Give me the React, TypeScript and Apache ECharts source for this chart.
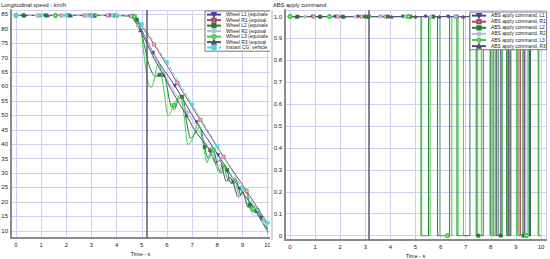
import React, { useEffect, useRef } from "react";
import * as echarts from "echarts";

const FONT = "'Liberation Sans', Arial, sans-serif";

// ---------- Left panel: Longitudinal speed (km/h) vs time (s) ----------
const L1_T = [0, 0.3, 1.16, 2.02, 2.88, 3.74, 4.5, 4.6, 4.75, 4.9, 5.1, 5.46, 5.8, 6.32, 7.18, 8.04, 8.9, 9.76, 10.0];
const L1_V = [84.6, 84.6, 84.6, 84.6, 84.6, 84.6, 84.5, 84.3, 83.2, 81.2, 77.8, 71.6, 66.8, 60.2, 47.6, 36.2, 24.6, 14.6, 12.2];
const L1_M = [0.3, 1.16, 2.02, 2.88, 3.74, 4.6, 5.46, 6.32, 7.18, 8.04, 8.9, 9.76];

const R1_T = [0, 0.89, 1.81, 2.73, 3.65, 4.57, 4.8, 5.1, 5.49, 5.9, 6.41, 7.33, 8.25, 9.17, 10.0];
const R1_V = [84.6, 84.6, 84.6, 84.6, 84.6, 84.4, 83.0, 79.6, 74.6, 68.8, 61.3, 48.4, 35.7, 23.8, 12.6];
const R1_M = [0.89, 1.81, 2.73, 3.65, 4.57, 5.49, 6.41, 7.33, 8.25, 9.17];

const L2_T = [0, 0.3, 1.2, 2.1, 3.0, 3.9, 4.6, 4.8, 4.95, 5.1, 5.25, 5.4, 5.55, 5.7, 5.86, 6.0, 6.15, 6.3, 6.45, 6.6, 6.8, 6.95, 7.1, 7.3, 7.5, 7.65, 7.85, 8.0, 8.15, 8.3, 8.4, 8.55, 8.72, 8.95, 9.15, 9.3, 9.42, 9.6, 9.8, 10.0];
const L2_V = [84.6, 84.6, 84.6, 84.6, 84.6, 84.6, 84.5, 83.2, 80, 74.5, 68.5, 65, 63.5, 64, 65, 60, 53.5, 52, 55.5, 56.5, 47, 42, 43.5, 46, 39, 35, 38, 33, 30, 33, 31, 26.5, 28, 22.5, 24, 19, 16.5, 18, 13, 9.8];
const L2_M = [0.3, 1.2, 2.1, 3.0, 3.9, 4.8, 5.7, 6.6, 7.5, 8.4, 9.3];

const R2_T = [0, 0.83, 1.83, 2.83, 3.83, 4.5, 4.83, 5.2, 5.5, 5.83, 6.2, 6.5, 6.83, 7.2, 7.5, 7.83, 8.05, 8.2, 8.45, 8.6, 8.83, 9.0, 9.25, 9.5, 9.7, 9.83, 10.0];
const R2_V = [84.6, 84.6, 84.6, 84.6, 84.6, 84.5, 81, 76, 70.5, 65.5, 59.5, 55.5, 51, 45.5, 41, 36, 32, 33.5, 27.5, 28.5, 22.1, 23, 18.5, 15, 15.5, 13, 10];
const R2_M = [0.83, 1.83, 2.83, 3.83, 4.83, 5.83, 6.83, 7.83, 8.83, 9.83];

const L3_T = [0, 1.57, 3.14, 4.6, 4.71, 4.8, 4.9, 4.97, 5.06, 5.16, 5.26, 5.36, 5.49, 5.6, 5.68, 5.78, 5.9, 6.06, 6.28, 6.52, 6.68, 6.85, 7.0, 7.25, 7.42, 7.6, 7.78, 7.85, 7.93, 8.08, 8.24, 8.38, 8.5, 8.68, 8.9, 9.1, 9.25, 9.37, 9.42, 9.55, 9.76, 9.86, 10.02];
const L3_V = [84.6, 84.6, 84.6, 84.5, 84.3, 83.6, 82, 79.5, 73.2, 66.3, 61.1, 59.6, 62.2, 67, 68, 64.5, 57.5, 49.8, 53.5, 57.1, 50, 39.8, 41.5, 47.3, 41, 33.6, 39.2, 38, 33, 30.5, 33.4, 29, 27, 28.5, 21.9, 24.8, 20, 17.3, 17.6, 18.5, 13.8, 14.5, 9.2];
const L3_M = [0, 1.57, 3.14, 4.71, 6.28, 7.85, 9.42];

const R3_T = [0, 0.34, 1.26, 2.18, 3.1, 4.02, 4.5, 4.7, 4.94, 5.2, 5.5, 5.86, 6.2, 6.5, 6.78, 7.1, 7.4, 7.7, 7.95, 8.1, 8.37, 8.5, 8.62, 8.85, 9.0, 9.25, 9.4, 9.54, 9.75, 10.0];
const R3_V = [84.6, 84.6, 84.6, 84.6, 84.6, 84.6, 84.5, 83, 79.5, 75, 69.5, 64, 58.5, 54, 50, 45, 41.5, 38, 33.5, 34.5, 27, 28.5, 27, 21.5, 23.5, 18, 19, 16.8, 13.5, 10.5];
const R3_M = [0.34, 1.26, 2.18, 3.1, 4.02, 4.94, 5.86, 6.78, 7.7, 8.62, 9.54];

const CG_T = [0, 1, 2, 3, 4, 4.5, 4.75, 5, 5.3, 5.6, 6, 7, 8, 9, 10];
const CG_V = [84.6, 84.6, 84.6, 84.6, 84.6, 84.5, 83.8, 81.6, 77.8, 73.5, 68.4, 53.8, 39.4, 24.9, 12.8];
const CG_M = [0, 1, 2, 3, 4, 5, 6, 7, 8, 9, 10];

const SPEED_NAMES = [
  "Wheel L1 (equivalent)",
  "Wheel R1 (equivalent)",
  "Wheel L2 (equivalent)",
  "Wheel R2 (equivalent)",
  "Wheel L3 (equivalent)",
  "Wheel R3 (equivalent)",
  "Instant CG, vehicle",
];
const SPEED_CURSOR = 5.18;

// ---------- Right panel: ABS apply command ----------
const C_L1_T = [0, 0.9, 1.8, 2.7, 3.6, 4.5, 5.4, 6.3, 7.2, 8.1, 9.0, 9.52, 9.58, 9.9, 10];
const C_L1_V = [1, 1, 1, 1, 1, 1, 1, 1, 1, 1, 1, 0, 1, 1, 1];
const C_L1_M = [0, 0.9, 1.8, 2.7, 3.6, 4.5, 5.4, 6.3, 7.2, 8.1, 9.0, 9.9];

const C_R1_T = [0, 0.95, 1.9, 2.85, 3.8, 4.75, 5.7, 6.65, 7.6, 8.55, 9.12, 9.18, 9.5, 10];
const C_R1_V = [1, 1, 1, 1, 1, 1, 1, 1, 1, 1, 0, 1, 1, 1];
const C_R1_M = [0.95, 1.9, 2.85, 3.8, 4.75, 5.7, 6.65, 7.6, 8.55, 9.5];

const C_L2_T = [0, 0.3, 1.2, 2.1, 3.0, 3.9, 4.8, 5.22, 5.52, 5.7, 5.88, 6.36, 6.6, 6.65, 7.17, 7.42, 7.5, 7.7, 7.98, 8.12, 8.3, 8.4, 8.45, 8.63, 8.76, 9.28, 9.3, 9.57, 9.89, 10.0];
const C_L2_V = [1, 1, 1, 1, 1, 1, 1, 0, 1, 1, 0, 1, 1, 0, 1, 0, 0, 1, 0, 1, 0, 0, 1, 0, 1, 0, 0, 1, 0, 0];
const C_L2_M = [0.3, 1.2, 2.1, 3.0, 3.9, 4.8, 5.7, 6.6, 7.5, 8.4, 9.3];

const C_R2_T = [0, 0.6, 1.6, 2.6, 3.6, 4.6, 5.6, 6.6, 7.6, 7.95, 8.05, 8.28, 8.38, 8.6, 9.4, 9.5, 9.6, 10];
const C_R2_V = [1, 1, 1, 1, 1, 1, 1, 1, 1, 0, 1, 0, 1, 1, 0, 1, 1, 1];
const C_R2_M = [0.6, 1.6, 2.6, 3.6, 4.6, 5.6, 6.6, 7.6, 8.6, 9.6];

const C_L3_T = [0, 1.57, 3.14, 4.71, 5.25, 5.58, 5.97, 6.28, 6.45, 6.7, 6.91, 7.48, 7.62, 7.85, 8.05, 8.2, 8.66, 8.72, 9.02, 9.06, 9.3, 9.42, 9.48, 9.92, 10];
const C_L3_V = [1, 1, 1, 1, 0, 1, 0, 0, 1, 0, 1, 0, 1, 1, 0, 1, 0, 1, 0, 1, 0, 0, 1, 0, 0];
const C_L3_M = [0, 1.57, 3.14, 4.71, 6.28, 7.85, 9.42];

const C_R3_T = [0, 0.25, 1.2, 2.15, 3.1, 4.05, 5.0, 5.95, 6.9, 7.85, 8.22, 8.4, 8.7, 8.8, 9.35, 9.55, 9.75, 10];
const C_R3_V = [1, 1, 1, 1, 1, 1, 1, 1, 1, 1, 0, 1, 0, 1, 0, 1, 1, 1];
const C_R3_M = [0.25, 1.2, 2.15, 3.1, 4.05, 5.0, 5.95, 6.9, 7.85, 8.8, 9.75];

const CMD_NAMES = [
  "ABS apply command, L1",
  "ABS apply command, R1",
  "ABS apply command, L2",
  "ABS apply command, R2",
  "ABS apply command, L3",
  "ABS apply command, R3",
];
const CMD_CURSOR = 3.15;

// ---------- styles ----------
const STYLES = [
  { color: "#4b3f99", symbol: "triangle", rotate: 180, fill: "#4b3f99" },
  { color: "#a24a5c", symbol: "rect", rotate: 0, fill: "#f0b8c8" },
  { color: "#1f7f30", symbol: "rect", rotate: 0, fill: "#1f7f30" },
  { color: "#b9b9dd", symbol: "circle", rotate: 0, fill: "#b9b9dd" },
  { color: "#3fcf3f", symbol: "emptyCircle", rotate: 0, fill: "#3fcf3f" },
  { color: "#55506e", symbol: "triangle", rotate: 0, fill: "#55506e" },
  { color: "#44dde6", symbol: "rect", rotate: 0, fill: "#44dde6", dashed: true },
];

const GRID_COLOR = "#d0d0ee";
const AXIS_COLOR = "#8a8a8a";
const TEXT_COLOR = "#222";

function build(T: number[], V: number[], marks: number[], sym: string) {
  return T.map((t, i) => ({
    value: [t, V[i]],
    symbol: marks.some((m) => Math.abs(m - t) < 1e-9) ? sym : "none",
  }));
}

function makeSeries(name: string, st: any, data: any[], extra: any) {
  return {
    type: "line",
    name,
    data,
    symbol: st.symbol,
    symbolSize: 3.2,
    symbolRotate: st.rotate,
    showSymbol: true,
    showAllSymbol: true,
    lineStyle: { color: st.color, width: 1, type: st.dashed ? "dashed" : "solid" },
    itemStyle: { color: st.fill, borderColor: st.color, borderWidth: 0.6 },
    color: st.color,
    emphasis: { disabled: true },
    ...extra,
  };
}

function cursorLine(x: number) {
  return {
    silent: true,
    symbol: ["none", "none"],
    label: { show: false },
    lineStyle: { color: "#5b5873", width: 1.5, type: "solid" },
    data: [{ xAxis: x }],
  };
}

function axisCommon() {
  return {
    axisLine: { show: true, onZero: false, lineStyle: { color: AXIS_COLOR, width: 2 } },
    axisTick: { show: false },
    splitLine: { show: true, lineStyle: { color: GRID_COLOR, width: 1 } },
  };
}

function xAxisFor(min: number, max: number) {
  return {
    type: "value",
    min,
    max,
    splitNumber: 10,
    name: "Time - s",
    nameLocation: "middle",
    nameGap: 13,
    nameMoveOverlap: false,
    nameTextStyle: { fontSize: 5.5, color: TEXT_COLOR, fontFamily: FONT },
    axisLabel: { fontSize: 6, color: TEXT_COLOR, margin: 4, showMinLabel: false, showMaxLabel: false, fontFamily: FONT },
    ...axisCommon(),
  };
}

function legendCommon(left: number, top: number, gap: number, textWidth: number | undefined) {
  return {
    orient: "vertical",
    left,
    top,
    padding: [1, 1, 1, 1],
    itemGap: gap,
    itemWidth: 14,
    itemHeight: 4,
    backgroundColor: "#fff",
    borderColor: "#777",
    borderWidth: 1,
    borderRadius: 0,
    textStyle: {
      fontSize: 4.9,
      lineHeight: 4.8,
      color: TEXT_COLOR,
      fontFamily: FONT,
      ...(textWidth ? { width: textWidth, overflow: "truncate", ellipsis: "" } : {}),
    },
  };
}

function leftOption() {
  const datasets = [
    [L1_T, L1_V, L1_M],
    [R1_T, R1_V, R1_M],
    [L2_T, L2_V, L2_M],
    [R2_T, R2_V, R2_M],
    [L3_T, L3_V, L3_M],
    [R3_T, R3_V, R3_M],
    [CG_T, CG_V, CG_M],
  ];
  const series = datasets.map((d, i) =>
    makeSeries(
      SPEED_NAMES[i],
      STYLES[i],
      build(d[0], d[1], d[2], STYLES[i].symbol),
      {
        smooth: 0.3,
        ...(i === 0 ? { markLine: cursorLine(SPEED_CURSOR) } : {}),
      }
    )
  );
  return {
    animation: false,
    backgroundColor: "#fff",
    textStyle: { fontFamily: FONT },
    title: {
      text: "Longitudinal speed - km/h",
      left: 1,
      top: 1.5,
      padding: 0,
      textStyle: { fontSize: 5.7, fontWeight: "normal", color: TEXT_COLOR, fontFamily: FONT },
    },
    grid: { left: 11, top: 10, width: 259, height: 228, containLabel: false, outerBoundsMode: "none" },
    xAxis: xAxisFor(-0.2, 10.1),
    yAxis: {
      type: "value",
      min: 7.5,
      max: 86.5,
      splitNumber: 16,
      axisLabel: { fontSize: 6, color: TEXT_COLOR, margin: 3, showMinLabel: false, showMaxLabel: false, fontFamily: FONT },
      ...axisCommon(),
    },
    legend: { ...legendCommon(205, 11, 0.3, 44), data: SPEED_NAMES },
    series,
  };
}

function rightOption() {
  const datasets = [
    [C_L1_T, C_L1_V, C_L1_M],
    [C_R1_T, C_R1_V, C_R1_M],
    [C_L2_T, C_L2_V, C_L2_M],
    [C_R2_T, C_R2_V, C_R2_M],
    [C_L3_T, C_L3_V, C_L3_M],
    [C_R3_T, C_R3_V, C_R3_M],
  ];
  const series = datasets.map((d, i) =>
    makeSeries(
      CMD_NAMES[i],
      STYLES[i],
      build(d[0], d[1], d[2], STYLES[i].symbol),
      {
        step: "end",
        ...(i === 0 ? { markLine: cursorLine(CMD_CURSOR) } : {}),
      }
    )
  );
  return {
    animation: false,
    backgroundColor: "#fff",
    textStyle: { fontFamily: FONT },
    title: {
      text: "ABS apply command",
      left: 3,
      top: 1.5,
      padding: 0,
      textStyle: { fontSize: 5.7, fontWeight: "normal", color: TEXT_COLOR, fontFamily: FONT },
    },
    graphic: [
      {
        type: "line",
        shape: { x1: 2, y1: 10, x2: 2, y2: 240 },
        style: { stroke: "#b0b0b0", lineWidth: 1 },
      },
    ],
    grid: { left: 15, top: 10, width: 261, height: 230, containLabel: false, outerBoundsMode: "none" },
    xAxis: xAxisFor(-0.2, 10.2),
    yAxis: {
      type: "value",
      min: -0.02,
      max: 1.03,
      splitNumber: 10,
      axisLabel: {
        fontSize: 6,
        color: TEXT_COLOR,
        margin: 3,
        showMinLabel: false,
        showMaxLabel: false,
        fontFamily: FONT,
        formatter: (v: number) => (Math.abs(v) < 1e-9 ? "0" : v.toFixed(1)),
      },
      ...axisCommon(),
    },
    legend: { ...legendCommon(200, 12, 0.9, undefined), data: CMD_NAMES },
    series,
  };
}

function Chart({ option, style }: { option: any; style: React.CSSProperties }) {
  const ref = useRef<HTMLDivElement>(null);
  useEffect(() => {
    if (!ref.current) return;
    const chart = echarts.init(ref.current, undefined, { renderer: "svg" });
    chart.setOption(option);
    return () => chart.dispose();
  }, [option]);
  return <div ref={ref} style={style} />;
}

const LEFT = leftOption();
const RIGHT = rightOption();

export default function App() {
  return (
    <div style={{ position: "fixed", left: 0, top: 0, width: 550, height: 259, background: "#fff" }}>
      <Chart option={LEFT} style={{ position: "absolute", left: 0, top: 0, width: 270, height: 259, overflow: "hidden" }} />
      <Chart option={RIGHT} style={{ position: "absolute", left: 270, top: 0, width: 280, height: 259, overflow: "hidden" }} />
    </div>
  );
}
